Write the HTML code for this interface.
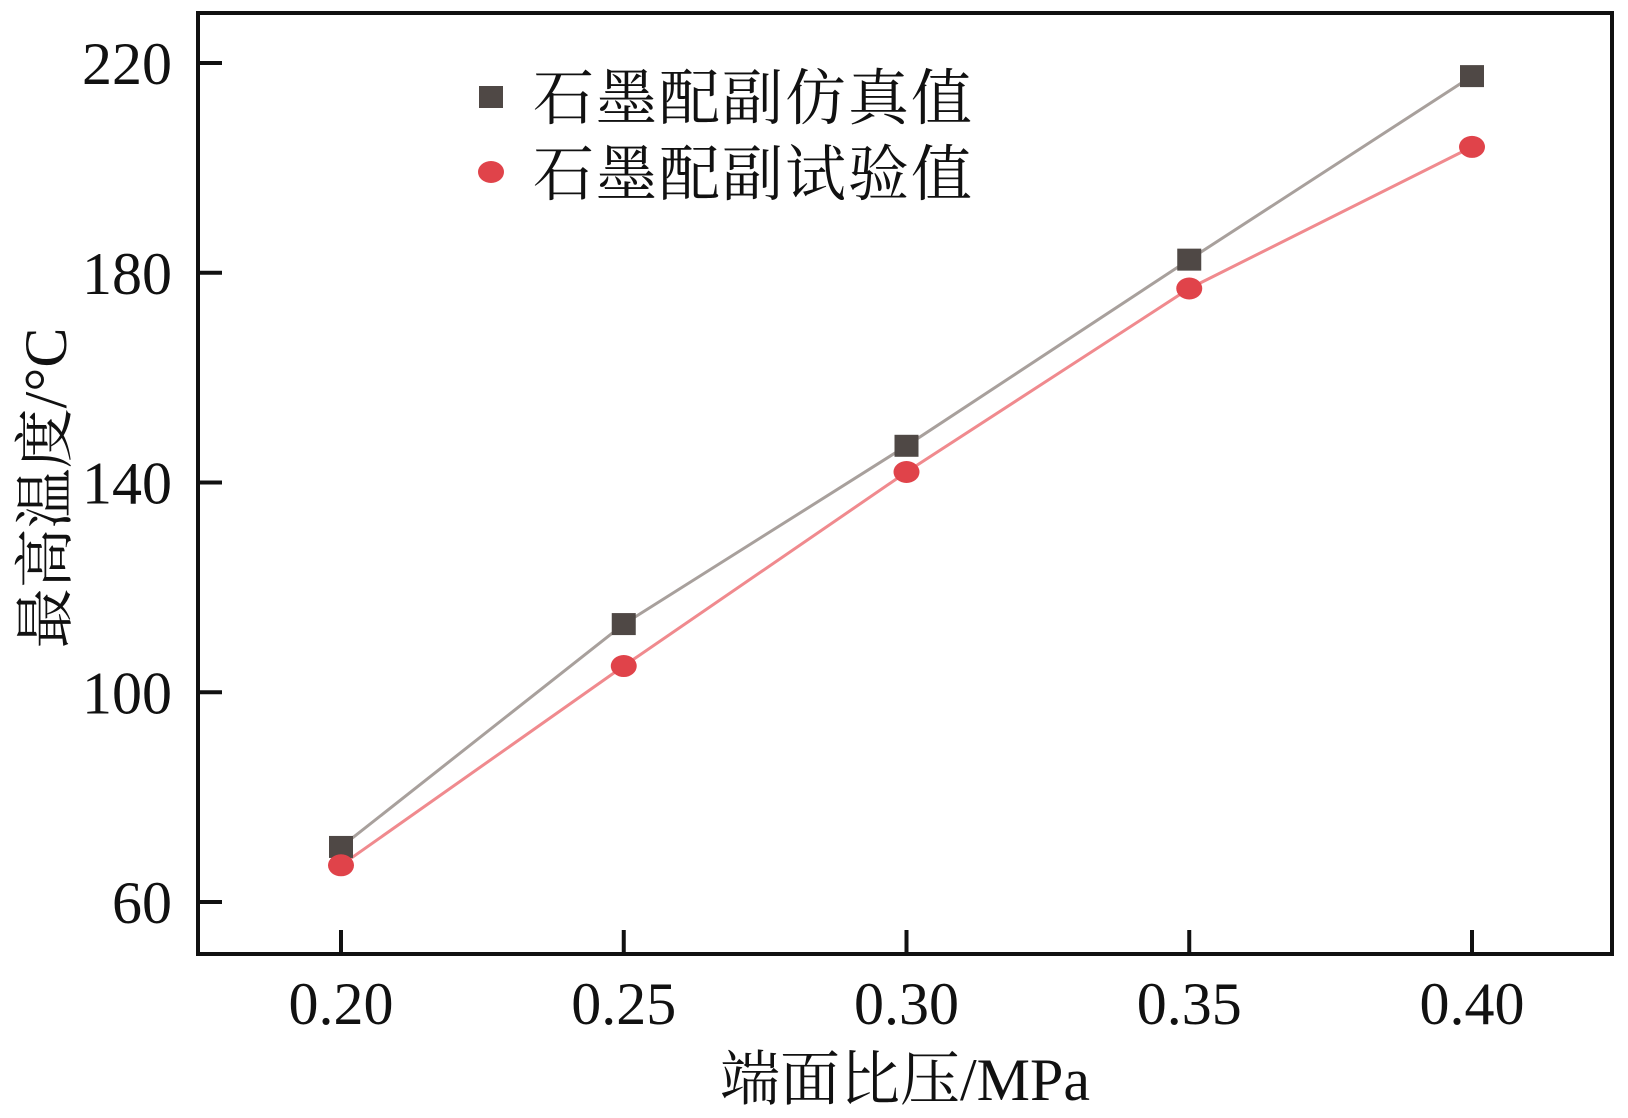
<!DOCTYPE html>
<html><head><meta charset="utf-8"><style>
html,body{margin:0;padding:0;background:#fff;}
svg{display:block;}
text{font-family:"Liberation Serif","Noto Serif CJK SC",serif;fill:#111;}
</style></head><body>
<svg id="chart" width="1628" height="1118" viewBox="0 0 1628 1118">
<rect x="0" y="0" width="1628" height="1118" fill="#fff"/>
<rect x="198" y="13" width="1414" height="941" fill="none" stroke="#111" stroke-width="4"/>
<g id="axes"></g>
<g id="series"></g>
<g>
<rect x="479" y="86" width="24" height="22" fill="#4f4845"/>
<text x="533" y="119" font-size="61" letter-spacing="2" style="font-family:'Noto Serif CJK SC',serif">石墨配副仿真值</text>
<ellipse cx="491" cy="172" rx="13" ry="11" fill="#e0434a"/>
<text x="533" y="195" font-size="61" letter-spacing="2" style="font-family:'Noto Serif CJK SC',serif">石墨配副试验值</text>
</g>
<text x="905" y="1100" font-size="60" text-anchor="middle">端面比压/MPa</text>
<text transform="translate(66,488) rotate(-90)" font-size="60" text-anchor="middle">最高温度/°C</text>
</svg>
<script>
const categories = [0.20, 0.25, 0.30, 0.35, 0.40];
const xTickLabels = ["0.20","0.25","0.30","0.35","0.40"];
const simValues = [70.5, 113, 147, 182.5, 217.5];
const expValues = [67, 105, 142, 177, 204];
const yTicks = [60, 100, 140, 180, 220];

const NS = "http://www.w3.org/2000/svg";
function xs(v){ return 341 + (v - 0.20) / 0.05 * 282.75; }
function ys(v){ return 902 - (v - 60) / 40 * 209.75; }
function mk(tag, attrs, parent){
  const e = document.createElementNS(NS, tag);
  for (const k in attrs) e.setAttribute(k, attrs[k]);
  parent.appendChild(e);
  return e;
}
const axes = document.getElementById('axes');
const series = document.getElementById('series');

yTicks.forEach(t => {
  const l = mk('line', {x1:198, x2:222, y1:ys(t), y2:ys(t), stroke:'#111', 'stroke-width':4}, axes);
  
  
  const tx = mk('text', {x:172, y:ys(t)+21, 'font-size':60, 'text-anchor':'end'}, axes);
  tx.textContent = String(t);
  
  
});
categories.forEach((c, i) => {
  const l = mk('line', {x1:xs(c), x2:xs(c), y1:954, y2:930, stroke:'#111', 'stroke-width':4}, axes);
  
  
  const tx = mk('text', {x:xs(c), y:1024, 'font-size':60, 'text-anchor':'middle'}, axes);
  tx.textContent = xTickLabels[i];
  
  
});

const simLine = mk('polyline', {points: categories.map((c,i)=>xs(c)+','+ys(simValues[i])).join(' '), fill:'none', stroke:'#a8a09c', 'stroke-width':3}, series);


const expLine = mk('polyline', {points: categories.map((c,i)=>xs(c)+','+ys(expValues[i])).join(' '), fill:'none', stroke:'#f08a8e', 'stroke-width':3}, series);



categories.forEach((c, i) => {
  const r = mk('rect', {x:xs(c)-12, y:ys(simValues[i])-11, width:24, height:22, fill:'#4f4845'}, series);
  
  
});
categories.forEach((c, i) => {
  const e = mk('ellipse', {cx:xs(c), cy:ys(expValues[i]), rx:13, ry:11, fill:'#e0434a'}, series);
  
  
});
</script>
</body></html>
